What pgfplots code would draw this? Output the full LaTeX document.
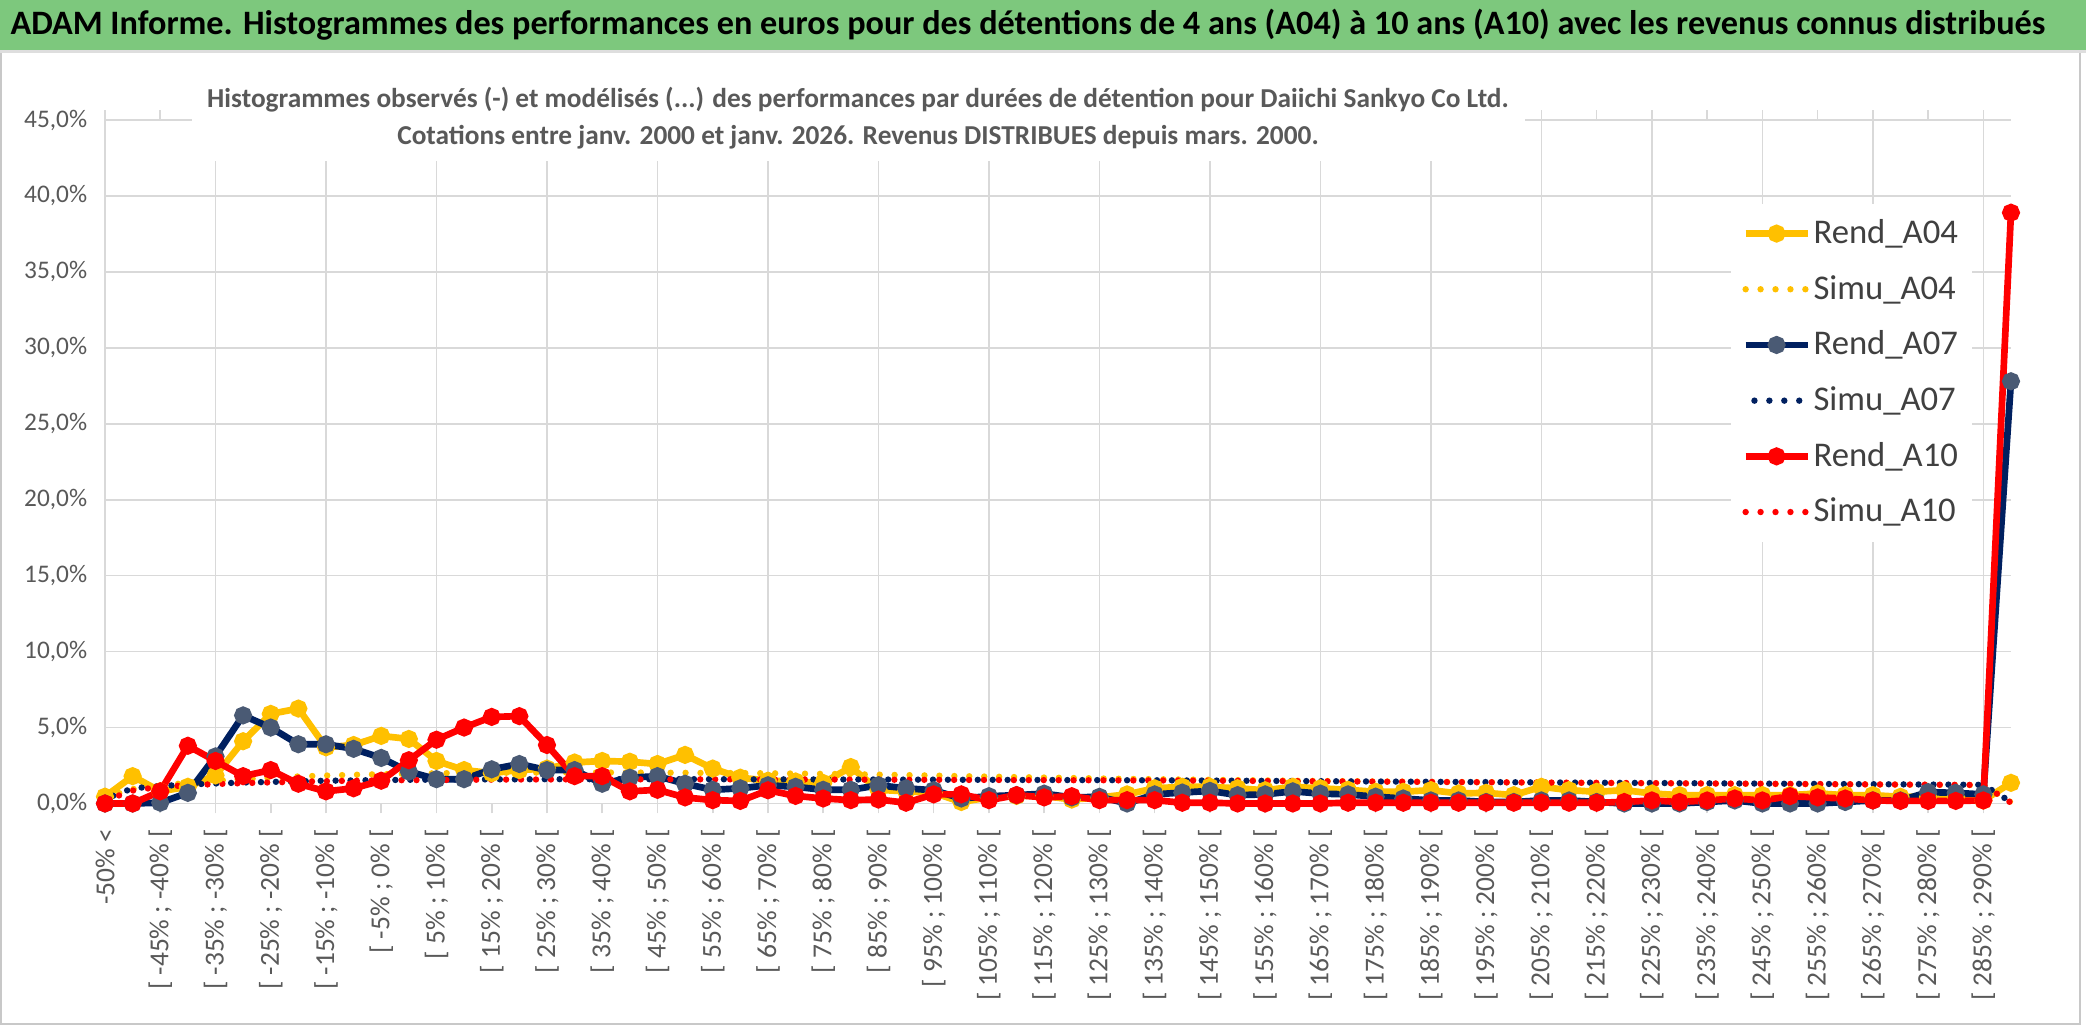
\documentclass[border=0pt]{standalone}
\usepackage{fontspec}
\setmainfont{Carlito}
\usepackage{pgfplots}
\usepackage{pgfplotstable}
\pgfplotsset{compat=1.18}
\definecolor{ygold}{HTML}{FFC000}
\definecolor{navy}{HTML}{002060}
\definecolor{navymk}{HTML}{4A5A74}
\definecolor{rred}{HTML}{FF0000}
\definecolor{gridgray}{HTML}{D9D9D9}
\definecolor{ticktext}{HTML}{595959}
\definecolor{legtext}{HTML}{404040}
\definecolor{titlegreen}{HTML}{7DC87D}
\definecolor{bordergray}{HTML}{C8C8C8}

\pgfplotstableread{
idx r04 s04 r07 s07 r10 s10
0 0.45 0.40 0.00 0.30 0.00 0.20
1 1.80 0.95 0.00 1.00 0.00 0.85
2 0.80 1.20 0.05 1.15 0.80 1.10
3 1.10 1.35 0.70 1.25 3.80 1.20
4 1.85 1.50 3.10 1.32 2.80 1.28
5 4.10 1.60 5.80 1.38 1.80 1.34
6 5.90 1.70 5.00 1.42 2.20 1.39
7 6.25 1.78 3.90 1.46 1.30 1.43
8 3.70 1.84 3.90 1.50 0.80 1.47
9 3.85 1.89 3.60 1.52 1.00 1.50
10 4.45 1.93 3.00 1.54 1.50 1.52
11 4.25 1.96 2.10 1.56 2.85 1.54
12 2.80 1.99 1.60 1.57 4.20 1.55
13 2.20 2.01 1.60 1.58 5.00 1.56
14 2.00 2.02 2.25 1.59 5.70 1.57
15 2.20 2.03 2.60 1.59 5.75 1.58
16 2.30 2.04 2.20 1.60 3.85 1.58
17 2.70 2.04 2.20 1.60 1.80 1.59
18 2.80 2.04 1.30 1.60 1.80 1.59
19 2.75 2.04 1.70 1.60 0.80 1.59
20 2.60 2.03 1.80 1.60 0.90 1.59
21 3.20 2.02 1.30 1.60 0.40 1.59
22 2.30 2.01 0.90 1.60 0.22 1.59
23 1.70 2.00 1.00 1.59 0.17 1.59
24 1.50 1.99 1.20 1.59 0.87 1.58
25 1.45 1.97 1.10 1.59 0.50 1.58
26 1.35 1.95 0.90 1.58 0.33 1.58
27 2.40 1.93 0.90 1.58 0.22 1.57
28 0.90 1.90 1.20 1.58 0.26 1.57
29 0.80 1.87 1.00 1.57 0.05 1.56
30 0.70 1.84 0.87 1.57 0.60 1.56
31 0.10 1.80 0.33 1.56 0.60 1.55
32 0.40 1.77 0.48 1.56 0.22 1.55
33 0.50 1.74 0.55 1.55 0.55 1.54
34 0.50 1.71 0.65 1.55 0.40 1.54
35 0.26 1.68 0.40 1.54 0.48 1.53
36 0.40 1.65 0.44 1.54 0.22 1.53
37 0.60 1.62 0.00 1.53 0.22 1.52
38 1.00 1.60 0.60 1.53 0.22 1.52
39 1.10 1.58 0.72 1.52 0.05 1.51
40 1.10 1.56 0.83 1.51 0.05 1.50
41 1.00 1.54 0.55 1.50 0.00 1.49
42 0.87 1.52 0.60 1.49 0.00 1.48
43 1.10 1.50 0.80 1.48 0.00 1.47
44 1.00 1.48 0.65 1.47 0.00 1.46
45 0.90 1.47 0.60 1.46 0.05 1.45
46 0.77 1.45 0.45 1.45 0.05 1.44
47 0.77 1.44 0.33 1.44 0.05 1.43
48 0.88 1.42 0.20 1.43 0.05 1.42
49 0.66 1.41 0.20 1.42 0.05 1.41
50 0.70 1.40 0.10 1.41 0.05 1.40
51 0.55 1.38 0.10 1.40 0.05 1.39
52 1.10 1.37 0.20 1.39 0.05 1.38
53 0.88 1.36 0.20 1.38 0.05 1.37
54 0.77 1.35 0.10 1.37 0.05 1.36
55 0.88 1.34 0.00 1.36 0.10 1.35
56 0.66 1.33 0.00 1.35 0.20 1.34
57 0.55 1.32 0.00 1.34 0.10 1.33
58 0.55 1.31 0.10 1.33 0.20 1.32
59 0.55 1.30 0.20 1.32 0.33 1.31
60 0.55 1.29 0.00 1.31 0.20 1.30
61 0.55 1.28 0.00 1.30 0.48 1.29
62 0.66 1.27 0.00 1.29 0.40 1.28
63 0.55 1.26 0.10 1.28 0.33 1.27
64 0.55 1.25 0.20 1.27 0.20 1.26
65 0.44 1.24 0.20 1.26 0.17 1.25
66 0.44 1.23 0.75 1.25 0.17 1.24
67 0.44 1.22 0.70 1.24 0.17 1.23
68 0.20 1.21 0.60 1.23 0.20 1.22
69 1.36 0.08 27.80 0.10 38.90 0.05
}\histdata

\begin{document}
\begin{tikzpicture}
\useasboundingbox (0,0) rectangle (782.25pt,386.625pt);
\fill[white] (0,0) rectangle (782.25pt,386.625pt);
\fill[titlegreen] (0,368.0pt) rectangle (782.25pt,386.625pt);
\draw[bordergray,line width=0.8pt] (0.4pt,367.5pt) -- (0.4pt,2.5pt) -- (780pt,2.5pt) -- (780pt,367.5pt);
\draw[bordergray!60,line width=1pt] (0,367.4pt) -- (782.25pt,367.4pt);
\node[anchor=west,inner sep=0pt] at (3.75pt,377.3pt)
  {\resizebox{763pt}{!}{\bfseries ADAM Informe. Histogrammes des performances en euros pour des détentions de 4 ans (A04) à 10 ans (A10) avec les revenus connus distribués}};

\begin{axis}[
  at={(39.375pt,85.3125pt)}, anchor=south west,
  scale only axis, width=714.75pt, height=256.3pt,
  xmin=0, xmax=69, ymin=0, ymax=45,
  clip=false,
  axis line style={draw=none},
  xmajorgrids, ymajorgrids,
  grid style={gridgray, line width=0.6pt},
  major tick length=3.75pt,
  xtick align=outside,
  xtick style={draw=gridgray, line width=0.6pt},
  ytick style={draw=none},
  ytick={0,5,...,45},
  yticklabels={{0,0\%},{5,0\%},{10,0\%},{15,0\%},{20,0\%},{25,0\%},{30,0\%},{35,0\%},{40,0\%},{45,0\%}},
  yticklabel style={font=\fontsize{9.5}{10}\selectfont, text=ticktext, inner sep=0pt},
  yticklabel shift=6.5pt,
  xtick={0,4,...,68},
  xticklabels={{-50\% <},{[ -35\% ; -30\% [},{[ -15\% ; -10\% [},{[ 5\% ; 10\% [},{[ 25\% ; 30\% [},{[ 45\% ; 50\% [},{[ 65\% ; 70\% [},{[ 85\% ; 90\% [},{[ 105\% ; 110\% [},{[ 125\% ; 130\% [},{[ 145\% ; 150\% [},{[ 165\% ; 170\% [},{[ 185\% ; 190\% [},{[ 205\% ; 210\% [},{[ 225\% ; 230\% [},{[ 245\% ; 250\% [},{[ 265\% ; 270\% [},{[ 285\% ; 290\% [}},
  extra x ticks={2,6,...,66},
  extra x tick labels={{[ -45\% ; -40\% [},{[ -25\% ; -20\% [},{[ -5\% ; 0\% [},{[ 15\% ; 20\% [},{[ 35\% ; 40\% [},{[ 55\% ; 60\% [},{[ 75\% ; 80\% [},{[ 95\% ; 100\% [},{[ 115\% ; 120\% [},{[ 135\% ; 140\% [},{[ 155\% ; 160\% [},{[ 175\% ; 180\% [},{[ 195\% ; 200\% [},{[ 215\% ; 220\% [},{[ 235\% ; 240\% [},{[ 255\% ; 260\% [},{[ 275\% ; 280\% [}},
  extra x tick style={grid=none, tick style={draw=none}},
  xticklabel style={font=\fontsize{10.3}{11}\selectfont, text=ticktext, rotate=90, anchor=east, inner sep=0pt},
  xticklabel shift=5.65pt,
  legend cell align=left,
  legend style={at={(0.8526,0.8786)}, anchor=north west, draw=none, fill=white,
    inner xsep=4.4pt, inner ysep=5pt, row sep=8.4pt,
    font=\fontsize{13}{15}\selectfont, text=legtext,
    nodes={inner sep=1pt},
    /tikz/every even column/.append style={column sep=1.5pt}},
  legend image code/.code={\draw[mark repeat=2,mark phase=2,#1] plot coordinates {(0pt,0pt) (11.6pt,0pt) (23.2pt,0pt)};},
  rend/.style={line width=2.5pt, mark=*, mark size=2.1pt, mark options={solid}},
  simu/.style={line width=2.4pt, line cap=round, dash pattern=on 0pt off 5.6pt},
]
\addplot[rend, ygold, mark options={fill=ygold, draw=ygold}] table[x=idx,y=r04] {\histdata};
\addlegendentry{Rend\_A04}
\addplot[simu, ygold] table[x=idx,y=s04] {\histdata};
\addlegendentry{Simu\_A04}
\addplot[rend, navy, mark options={fill=navymk, draw=navymk}] table[x=idx,y=r07] {\histdata};
\addlegendentry{Rend\_A07}
\addplot[simu, navy, dash phase=2.3pt] table[x=idx,y=s07] {\histdata};
\addlegendentry{Simu\_A07}
\addplot[rend, rred, mark options={fill=rred, draw=rred}] table[x=idx,y=r10] {\histdata};
\addlegendentry{Rend\_A10}
\addplot[simu, rred] table[x=idx,y=s10] {\histdata};
\addlegendentry{Simu\_A10}
\end{axis}

\fill[white] (72pt,326.4pt) rectangle (572pt,358.4pt);
\node[text=ticktext,inner sep=0pt] at (321.75pt,349.1pt)
  {\bfseries\fontsize{10.25}{12}\selectfont Histogrammes observés (-) et modélisés (...) des performances par durées de détention pour Daiichi Sankyo Co Ltd.};
\node[text=ticktext,inner sep=0pt] at (321.75pt,335.0pt)
  {\bfseries\fontsize{10.25}{12}\selectfont Cotations entre janv. 2000 et janv. 2026. Revenus DISTRIBUES depuis mars. 2000.};
\end{tikzpicture}
\end{document}
